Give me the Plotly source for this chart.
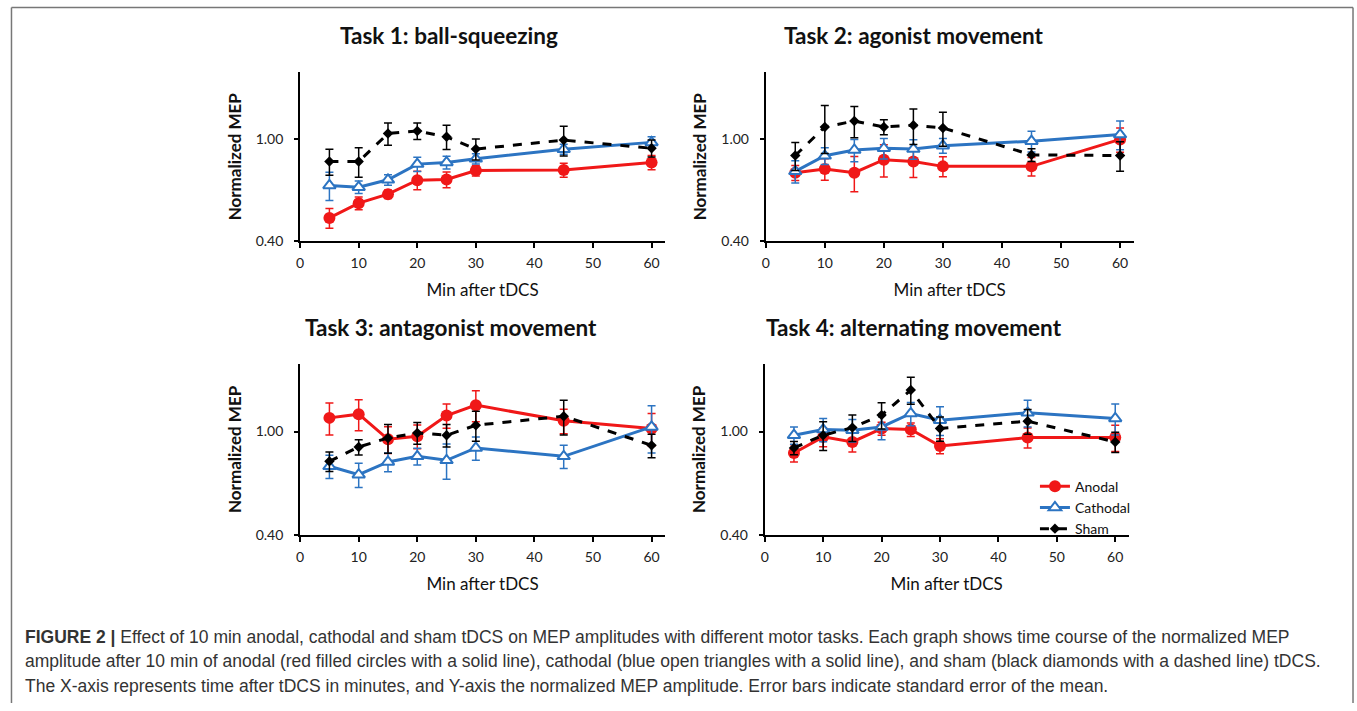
import plotly.graph_objects as go

minutes = [5, 10, 15, 20, 25, 30, 45, 60]

# Task 1: ball-squeezing
t1_anodal = [0.493, 0.563, 0.610, 0.692, 0.696, 0.754, 0.758, 0.811]
t1_anodal_se = [0.044, 0.032, 0.023, 0.057, 0.049, 0.036, 0.048, 0.052]
t1_cathodal = [0.660, 0.650, 0.694, 0.799, 0.811, 0.838, 0.913, 0.971]
t1_cathodal_se = [0.083, 0.036, 0.033, 0.051, 0.047, 0.038, 0.041, 0.050]
t1_sham = [0.818, 0.818, 1.051, 1.076, 1.021, 0.915, 0.991, 0.921]
t1_sham_se = [0.095, 0.108, 0.104, 0.079, 0.111, 0.085, 0.131, 0.070]

# Task 2: agonist movement
t2_anodal = [0.740, 0.765, 0.740, 0.831, 0.818, 0.783, 0.783, 0.997]
t2_anodal_se = [0.050, 0.073, 0.116, 0.119, 0.110, 0.070, 0.065, 0.108]
t2_cathodal = [0.749, 0.861, 0.907, 0.921, 0.915, 0.943, 0.982, 1.042]
t2_cathodal_se = [0.075, 0.065, 0.090, 0.085, 0.080, 0.063, 0.091, 0.134]
t2_sham = [0.863, 1.115, 1.176, 1.115, 1.132, 1.105, 0.868, 0.863]
t2_sham_se = [0.108, 0.236, 0.163, 0.075, 0.179, 0.168, 0.050, 0.114]

# Task 3: antagonist movement
t3_anodal = [1.129, 1.167, 0.934, 0.959, 1.153, 1.264, 1.100, 1.027]
t3_anodal_se = [0.160, 0.160, 0.110, 0.100, 0.123, 0.172, 0.120, 0.147]
t3_cathodal = [0.735, 0.682, 0.764, 0.803, 0.775, 0.865, 0.803, 1.042]
t3_cathodal_se = [0.076, 0.073, 0.063, 0.060, 0.120, 0.089, 0.082, 0.215]
t3_sham = [0.768, 0.872, 0.945, 0.988, 0.968, 1.058, 1.146, 0.885]
t3_sham_se = [0.066, 0.059, 0.119, 0.095, 0.096, 0.140, 0.175, 0.092]

# Task 4: alternating movement
t4_anodal = [0.827, 0.954, 0.912, 1.027, 1.018, 0.880, 0.948, 0.948]
t4_anodal_se = [0.063, 0.080, 0.078, 0.060, 0.060, 0.058, 0.083, 0.110]
t4_cathodal = [0.968, 1.018, 1.012, 1.042, 1.174, 1.106, 1.181, 1.123]
t4_cathodal_se = [0.074, 0.105, 0.100, 0.111, 0.121, 0.140, 0.140, 0.153]
t4_sham = [0.865, 0.968, 1.036, 1.157, 1.445, 1.027, 1.096, 0.912]
t4_sham_se = [0.050, 0.122, 0.121, 0.133, 0.172, 0.110, 0.120, 0.082]

titles = ["Task 1: ball-squeezing", "Task 2: agonist movement",
          "Task 3: antagonist movement", "Task 4: alternating movement"]
series_names = ["Anodal", "Cathodal", "Sham"]
y_ticks = [0.4, 1.0]
y_tick_labels = ["0.40", "1.00"]
x_ticks = [0, 10, 20, 30, 40, 50, 60]

tasks = [
    (t1_anodal, t1_anodal_se, t1_cathodal, t1_cathodal_se, t1_sham, t1_sham_se),
    (t2_anodal, t2_anodal_se, t2_cathodal, t2_cathodal_se, t2_sham, t2_sham_se),
    (t3_anodal, t3_anodal_se, t3_cathodal, t3_cathodal_se, t3_sham, t3_sham_se),
    (t4_anodal, t4_anodal_se, t4_cathodal, t4_cathodal_se, t4_sham, t4_sham_se),
]

W, H = 1357, 711
RED = "#f01818"
BLUE = "#2c74c2"
BLACK = "#000000"
FONT = "Lato"

# pixel boxes of plot areas (left, right, top, bottom) and title centres
boxes = [(297, 663, 73, 244), (764, 1133, 73, 244),
         (297, 663, 368, 541), (763, 1128, 368, 541)]
title_cx = [446, 913, 448, 913]

fig = go.Figure()
styles = [
    dict(color=RED, symbol="circle", size=12, dash="solid", fill=RED, lw=0),
    dict(color=BLUE, symbol="triangle-up", size=11, dash="solid", fill="white", lw=2),
    dict(color=BLACK, symbol="diamond", size=8, dash="dash", fill=BLACK, lw=0),
]

for i, (task, box) in enumerate(zip(tasks, boxes)):
    ax = "" if i == 0 else str(i + 1)
    vals = [(task[0], task[1]), (task[2], task[3]), (task[4], task[5])]
    for j, ((v, se), st) in enumerate(zip(vals, styles)):
        fig.add_trace(go.Scatter(
            x=minutes, y=v, name=series_names[j], mode="lines+markers",
            xaxis="x" + ax, yaxis="y" + ax,
            showlegend=(i == 3),
            line=dict(color=st["color"], width=3, dash=st["dash"]),
            marker=dict(symbol=st["symbol"], size=st["size"], color=st["fill"],
                        line=dict(color=st["color"], width=st["lw"])),
            error_y=dict(type="data", array=se, visible=True, color=st["color"],
                         thickness=1.5, width=4),
        ))
    l, r, t, b = box
    xd = [l / W, r / W]
    yd = [(H - b) / H, (H - t) / H]
    fig.layout["xaxis" + ax] = dict(
        domain=xd, anchor="y" + ax, range=[0, 62.3], tickvals=x_ticks,
        ticks="outside", ticklen=5, tickwidth=1.5, tickcolor="black",
        ticklabelstandoff=3,
        showline=True, linecolor="black", linewidth=2, showgrid=False,
        zeroline=False, tickfont=dict(family=FONT, size=14, color="#222"),
        title=dict(text="Min after tDCS", font=dict(family=FONT, size=17, color="#111"),
                   standoff=14),
    )
    fig.layout["yaxis" + ax] = dict(
        domain=yd, anchor="x" + ax, type="log",
        range=[-0.39794, 0.2607], tickvals=y_ticks, ticktext=y_tick_labels,
        ticks="outside", ticklen=4, tickwidth=1.5, tickcolor="black",
        ticklabelstandoff=8,
        showline=True, linecolor="black", linewidth=2, showgrid=False,
        zeroline=False, tickfont=dict(family=FONT, size=14, color="#222"),
        title=dict(text="<b>Normalized MEP</b>", font=dict(family=FONT, size=17, color="#111"),
                   standoff=10),
    )
    fig.add_annotation(
        text="<b>" + titles[i] + "</b>", x=title_cx[i] / W, y=(H - t + 37) / H,
        xref="paper", yref="paper", showarrow=False, xanchor="center", yanchor="middle",
        font=dict(family=FONT, size=22.5, color="#111"),
    )

caption = [
    "<b>FIGURE 2 |</b> Effect of 10 min anodal, cathodal and sham tDCS on MEP amplitudes with different motor tasks. Each graph shows time course of the normalized MEP",
    "amplitude after 10 min of anodal (red filled circles with a solid line), cathodal (blue open triangles with a solid line), and sham (black diamonds with a dashed line) tDCS.",
    "The X-axis represents time after tDCS in minutes, and Y-axis the normalized MEP amplitude. Error bars indicate standard error of the mean.",
]
for k, line in enumerate(caption):
    fig.add_annotation(
        text=line, x=19 / W, y=(H - (644 + 25 * k)) / H, xref="paper", yref="paper",
        showarrow=False, xanchor="left", yanchor="middle",
        font=dict(family="Liberation Sans", size=17.5, color="#333"),
    )

# outer frame
fig.add_shape(type="line", xref="paper", yref="paper", x0=7.5 / W, x1=7.5 / W,
              y0=0, y1=(H - 7.5) / H, line=dict(color="#777", width=1.5))
fig.add_shape(type="line", xref="paper", yref="paper", x0=7.5 / W, x1=1353 / W,
              y0=(H - 7.5) / H, y1=(H - 7.5) / H, line=dict(color="#777", width=1.5))
fig.add_shape(type="line", xref="paper", yref="paper", x0=1353 / W, x1=1353 / W,
              y0=0, y1=(H - 7.5) / H, line=dict(color="#777", width=1.5))

fig.update_layout(
    width=W, height=H, margin=dict(l=0, r=0, t=0, b=0),
    paper_bgcolor="white", plot_bgcolor="white",
    legend=dict(x=1034 / W, y=(H - 476) / H, xanchor="left", yanchor="top",
                bgcolor="rgba(0,0,0,0)", font=dict(family=FONT, size=14, color="#111"),
                itemwidth=30, tracegroupgap=0),
)

fig.write_html("out.html", config={"displayModeBar": False},
               post_script="document.body.style.margin='0';document.documentElement.style.overflow='hidden';")
